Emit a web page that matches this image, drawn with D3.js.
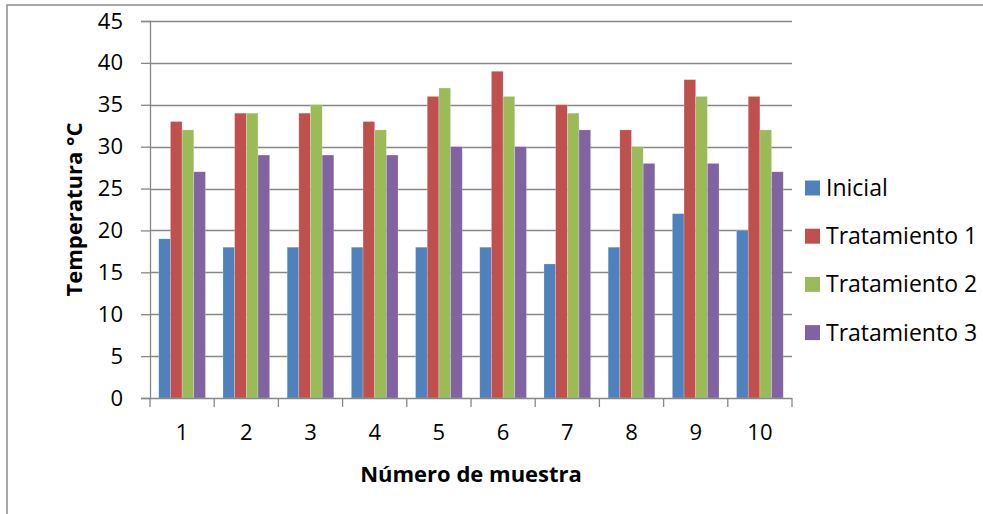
<!DOCTYPE html>
<html>
<head>
<meta charset="utf-8">
<script src="https://cdn.jsdelivr.net/npm/d3@7"></script>
<style>
  body { margin: 0; background: #fff; }
  svg { display: block; }
</style>
</head>
<body>
<div id="chart"></div>
<script>
// datos
const muestras = ["1", "2", "3", "4", "5", "6", "7", "8", "9", "10"];
const series = ["Inicial", "Tratamiento 1", "Tratamiento 2", "Tratamiento 3"];
const inicial = [19, 18, 18, 18, 18, 18, 16, 18, 22, 20];
const trat1 = [33, 34, 34, 33, 36, 39, 35, 32, 38, 36];
const trat2 = [32, 34, 35, 32, 37, 36, 34, 30, 36, 32];
const trat3 = [27, 29, 29, 29, 30, 30, 32, 28, 28, 27];
const yTicks = [0, 5, 10, 15, 20, 25, 30, 35, 40, 45];
const colors = ["#4F81BD", "#C0504D", "#9BBB59", "#8064A2"];

const valores = [inicial, trat1, trat2, trat3];
const data = muestras.map((m, i) => ({
    muestra: m,
    vals: series.map((s, j) => ({ serie: s, value: valores[j][i] }))
}));

const W = 983, H = 514;
const plot = { left: 150, right: 792, top: 21, bottom: 398 };
const font = "'Open Sans', Lato, sans-serif";
const gray = "#878787";

const svg = d3.select("#chart")
    .append("svg")
    .attr("width", W)
    .attr("height", H);

// marco del gráfico
svg.append("rect")
    .attr("x", 7)
    .attr("y", 5)
    .attr("width", W + 20)
    .attr("height", H + 20)
    .attr("fill", "#fff")
    .attr("stroke", "#8c8c8c")
    .attr("stroke-width", 1.5);

const x0 = d3.scaleBand()
    .domain(muestras)
    .range([plot.left, plot.right])
    .paddingInner(0.273)
    .paddingOuter(0.1365);

const x1 = d3.scaleBand()
    .domain(series)
    .range([0, x0.bandwidth()]);

const y = d3.scaleLinear()
    .domain([0, 45])
    .range([plot.bottom, plot.top]);

const color = d3.scaleOrdinal().domain(series).range(colors);

// líneas de división
svg.append("g")
    .selectAll("line")
    .data(yTicks.filter(d => d > 0))
    .join("line")
    .attr("x1", plot.left)
    .attr("x2", plot.right)
    .attr("y1", d => Math.round(y(d)) + 0.5)
    .attr("y2", d => Math.round(y(d)) + 0.5)
    .attr("stroke", gray)
    .attr("stroke-width", 1.3);

// barras
svg.append("g")
    .selectAll("g")
    .data(data)
    .join("g")
    .attr("transform", d => `translate(${x0(d.muestra)},0)`)
    .selectAll("rect")
    .data(d => d.vals)
    .join("rect")
    .attr("x", d => x1(d.serie))
    .attr("y", d => y(d.value))
    .attr("width", x1.bandwidth())
    .attr("height", d => y(0) - y(d.value))
    .attr("fill", d => color(d.serie))
    .attr("stroke", "rgba(255,255,255,0.35)")
    .attr("stroke-width", 0.6);

// eje Y
const yAxis = svg.append("g")
    .attr("transform", `translate(${plot.left},0)`)
    .call(d3.axisLeft(y).tickValues(yTicks).tickSize(9).tickPadding(18));
yAxis.select(".domain").attr("stroke", gray).attr("stroke-width", 1.3);
yAxis.selectAll(".tick line").attr("stroke", gray).attr("stroke-width", 1.3);
yAxis.selectAll(".tick text")
    .attr("fill", "#000")
    .style("font", `22px ${font}`);

// eje X con marcas entre categorías
const xAxis = svg.append("g")
    .attr("transform", `translate(0,${plot.bottom})`)
    .call(d3.axisBottom(x0).tickSize(0).tickPadding(26));
xAxis.select(".domain").remove();
xAxis.selectAll(".tick text")
    .attr("fill", "#000")
    .style("font", `22px ${font}`);

const step = x0.step();
const bordes = d3.range(muestras.length + 1).map(i => plot.left + i * step);
xAxis.append("line")
    .attr("x1", plot.left)
    .attr("x2", plot.right)
    .attr("y1", 0.5)
    .attr("y2", 0.5)
    .attr("stroke", gray)
    .attr("stroke-width", 1.3);
xAxis.selectAll(".sep")
    .data(bordes)
    .join("line")
    .attr("class", "sep")
    .attr("x1", d => d)
    .attr("x2", d => d)
    .attr("y1", 0)
    .attr("y2", 9)
    .attr("stroke", gray)
    .attr("stroke-width", 1.3);

// títulos de ejes
svg.append("text")
    .attr("x", 471)
    .attr("y", 482)
    .attr("text-anchor", "middle")
    .style("font", `bold 22px ${font}`)
    .text("Número de muestra");

svg.append("text")
    .attr("transform", `translate(82,${(plot.top + plot.bottom) / 2}) rotate(-90)`)
    .attr("text-anchor", "middle")
    .style("font", `bold 22px ${font}`)
    .text("Temperatura °C");

// leyenda
const legend = svg.append("g")
    .selectAll("g")
    .data(series)
    .join("g")
    .attr("transform", (d, i) => `translate(805,${188 + i * 48.2})`);

legend.append("rect")
    .attr("x", 0)
    .attr("y", -7.5)
    .attr("width", 15)
    .attr("height", 15)
    .attr("fill", d => color(d));

legend.append("text")
    .attr("x", 21)
    .attr("y", 0)
    .attr("dy", "0.35em")
    .style("font", `23px ${font}`)
    .text(d => d);
</script>
</body>
</html>
